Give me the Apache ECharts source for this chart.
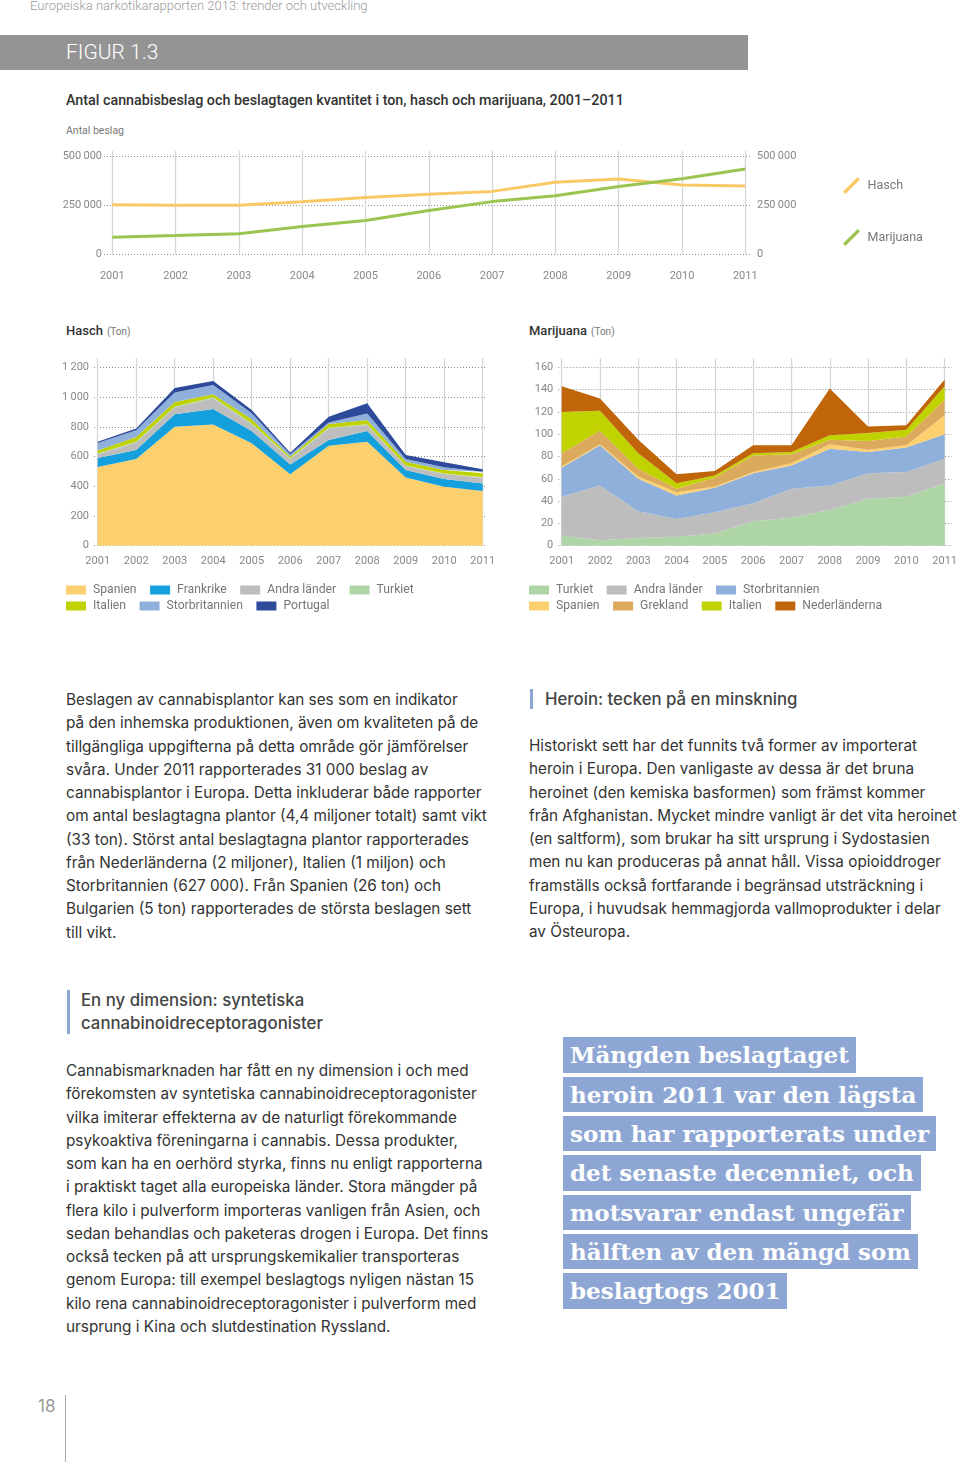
<!DOCTYPE html>
<html><head><meta charset="utf-8">
<script src="https://cdn.jsdelivr.net/npm/echarts@6/dist/echarts.min.js"></script>
<style>
html,body{margin:0;padding:0;background:#fff;}
body{width:960px;height:1462px;position:relative;overflow:hidden;font-family:Inter,"Noto Sans",sans-serif;}
.abs{position:absolute;white-space:pre;}
#chart{position:absolute;left:0;top:0;width:960px;height:630px;}
.para{font-size:15.3px;line-height:23.25px;color:#333;}
.hl{position:absolute;left:563px;background:#8ea6d3;color:#fff;font-family:"DejaVu Serif",serif;font-weight:bold;font-size:23px;height:35.5px;line-height:35.5px;padding:0 7px;white-space:pre;}
</style></head>
<body>
<div class="abs" style="left:30px;top:-2px;font-family:Roboto;font-weight:300;font-size:13px;color:#9a9a9a;line-height:16px;">Europeiska narkotikarapporten 2013: trender och utveckling</div>
<div class="abs" style="left:0;top:35px;width:748px;height:35px;background:#949494;"></div>
<div class="abs" style="left:66px;top:38px;font-family:Roboto;font-weight:300;font-size:21px;color:#fff;line-height:28px;">FIGUR 1.3</div>
<div class="abs" style="left:66px;top:91px;font-family:Roboto;font-weight:500;font-size:14.3px;color:#333;line-height:18px;">Antal cannabisbeslag och beslagtagen kvantitet i ton, hasch och marijuana, 2001–2011</div>
<div class="abs" style="left:66px;top:124px;font-family:Roboto;font-size:10.5px;color:#777;line-height:14px;">Antal beslag</div>
<div class="abs" style="left:66px;top:321px;font-family:Roboto;line-height:18px;"><span style="font-size:13px;font-weight:500;color:#333;">Hasch</span> <span style="font-size:10px;color:#777;">(Ton)</span></div>
<div class="abs" style="left:529px;top:321px;font-family:Roboto;line-height:18px;"><span style="font-size:13px;font-weight:500;color:#333;">Marijuana</span> <span style="font-size:10px;color:#777;">(Ton)</span></div>
<div id="chart"></div>

<div class="abs para" style="left:66px;top:688px;">Beslagen av cannabisplantor kan ses som en indikator
på den inhemska produktionen, även om kvaliteten på de
tillgängliga uppgifterna på detta område gör jämförelser
svåra. Under 2011 rapporterades 31 000 beslag av
cannabisplantor i Europa. Detta inkluderar både rapporter
om antal beslagtagna plantor (4,4 miljoner totalt) samt vikt
(33 ton). Störst antal beslagtagna plantor rapporterades
från Nederländerna (2 miljoner), Italien (1 miljon) och
Storbritannien (627 000). Från Spanien (26 ton) och
Bulgarien (5 ton) rapporterades de största beslagen sett
till vikt.</div>

<div class="abs" style="left:530px;top:689px;width:3px;height:20px;background:#8ea6d3;"></div>
<div class="abs" style="left:545px;top:688px;font-size:16.8px;font-weight:500;color:#444;line-height:22px;">Heroin: tecken på en minskning</div>
<div class="abs para" style="left:529px;top:734px;">Historiskt sett har det funnits två former av importerat
heroin i Europa. Den vanligaste av dessa är det bruna
heroinet (den kemiska basformen) som främst kommer
från Afghanistan. Mycket mindre vanligt är det vita heroinet
(en saltform), som brukar ha sitt ursprung i Sydostasien
men nu kan produceras på annat håll. Vissa opioiddroger
framställs också fortfarande i begränsad utsträckning i
Europa, i huvudsak hemmagjorda vallmoprodukter i delar
av Östeuropa.</div>

<div class="abs" style="left:67px;top:990px;width:3px;height:44px;background:#8ea6d3;"></div>
<div class="abs" style="left:81px;top:989px;font-size:16.8px;font-weight:500;color:#444;line-height:23.25px;">En ny dimension: syntetiska
cannabinoidreceptoragonister</div>
<div class="abs para" style="left:66px;top:1059px;">Cannabismarknaden har fått en ny dimension i och med
förekomsten av syntetiska cannabinoidreceptoragonister
vilka imiterar effekterna av de naturligt förekommande
psykoaktiva föreningarna i cannabis. Dessa produkter,
som kan ha en oerhörd styrka, finns nu enligt rapporterna
i praktiskt taget alla europeiska länder. Stora mängder på
flera kilo i pulverform importeras vanligen från Asien, och
sedan behandlas och paketeras drogen i Europa. Det finns
också tecken på att ursprungskemikalier transporteras
genom Europa: till exempel beslagtogs nyligen nästan 15
kilo rena cannabinoidreceptoragonister i pulverform med
ursprung i Kina och slutdestination Ryssland.</div>

<div class="hl" style="top:1037.3px;">Mängden beslagtaget</div>
<div class="hl" style="top:1076.6px;">heroin 2011 var den lägsta</div>
<div class="hl" style="top:1115.9px;">som har rapporterats under</div>
<div class="hl" style="top:1155.2px;">det senaste decenniet, och</div>
<div class="hl" style="top:1194.5px;">motsvarar endast ungefär</div>
<div class="hl" style="top:1233.8px;">hälften av den mängd som</div>
<div class="hl" style="top:1273.1px;">beslagtogs 2001</div>

<div class="abs" style="left:38px;top:1395px;font-size:17px;color:#999;line-height:22px;">18</div>
<div class="abs" style="left:65px;top:1395px;width:1px;height:67px;background:#aaa;"></div>

<script>
// ---------- DATA ----------
const years = ['2001','2002','2003','2004','2005','2006','2007','2008','2009','2010','2011'];

// Antal beslag (number of seizures)
const seizuresHasch     = [252000, 250000, 250000, 267000, 289000, 306000, 320000, 367000, 383000, 352000, 347000];
const seizuresMarijuana = [ 87000,  95000, 104000, 141000, 172000, 223000, 268000, 298000, 345000, 384000, 434000];

// Hasch (ton), stacked bottom -> top
const haschSpanien        = [530, 583, 800, 816, 689, 480, 673, 700, 458, 397, 368];
const haschFrankrike      = [ 60,  61,  84, 104,  83,  67,  38,  72,  51,  51,  51];
const haschAndraLander    = [ 25,  50,  45,  70,  45,  36,  78,  40,  27,  34,  38];
const haschTurkiet        = [  5,   5,   5,   8,   6,   5,   5,   5,   4,   4,   4];
const haschItalien        = [ 20,  33,  33,  20,  28,  10,  24,  29,  25,  23,  26];
const haschStorbritannien = [ 50,  45,  63,  63,  40,  16,  11,  44,  18,  18,  11];
const haschPortugal       = [ 10,  12,  31,  27,  22,  12,  39,  68,  27,  34,  16];

// Marijuana (ton), stacked bottom -> top
const mariTurkiet         = [  9,   5,   7,   8,  11,  22,  25,  32,  42,  44,  56];
const mariAndraLander     = [ 35,  49,  24,  16,  19,  16,  26,  22,  23,  22,  22];
const mariStorbritannien  = [ 26,  36,  29,  21,  22,  27,  21,  33,  19,  22,  22];
const mariSpanien         = [  1,   1,   2,   3,   1,   1,   2,   4,   2,   2,  17];
const mariGrekland        = [ 12,  12,   7,   3,   8,  15,   8,   4,   8,   8,  14];
const mariItalien         = [ 37,  18,  14,   5,   2,   2,   2,   4,   7,   6,  12];
const mariNederlanderna   = [ 23,  11,  12,   8,   4,   7,   6,  42,   6,   4,   6];

// ---------- STYLE ----------
const C = {
  Spanien:'#fdd06f', Frankrike:'#13a0dc', Andra:'#bdbdbd', Turkiet:'#aed5a6',
  Italien:'#c0d200', Storbritannien:'#8fb0da', Portugal:'#2e4a9b',
  Grekland:'#dcaa5c', Nederlanderna:'#c1650a'
};
const FONT = 'Roboto';
const labelColor = '#888';
function fmt(v){ return String(v).replace(/\B(?=(\d{3})+(?!\d))/g, '\u2009'); }

const gridsDef = [
  {left:104,   top:156,   width:648,   height:98.3},   // 0 top dotted
  {left:112.3, top:151,   width:633,   height:103.3},  // 1 top data
  {left:94,    top:367.3, width:392.7, height:178.4},  // 2 hasch dotted
  {left:97.7,  top:358,   width:385,   height:187.7},  // 3 hasch data
  {left:558.3, top:367.3, width:393.4, height:178.4},  // 4 mari dotted
  {left:561.7, top:358.3, width:385,   height:187.4}   // 5 mari data
];

const dotted = {show:true, lineStyle:{type:[1,2], color:'#8c8c8c', width:1}};
const vlines = {show:true, lineStyle:{color:'#d6d6d6', width:1.3}};

function hiddenX(g){ return {type:'category', gridIndex:g, data:years, show:false}; }
function dataX(g, margin){
  return {type:'category', gridIndex:g, data:years, boundaryGap:false,
    axisLine:{show:false}, axisTick:{show:false}, splitLine:vlines,
    axisLabel:{color:labelColor, fontFamily:FONT, fontSize:11, margin:margin, interval:0}};
}
function dottedY(g, max, interval, pos, margin){
  return {type:'value', gridIndex:g, min:0, max:max, interval:interval, position:pos||'left',
    axisLine:{show:false}, axisTick:{show:false}, splitLine:dotted,
    axisLabel:{color:labelColor, fontFamily:FONT, fontSize:11, margin:margin, formatter:fmt}};
}
function hiddenY(g, max){ return {type:'value', gridIndex:g, min:0, max:max, show:false, splitLine:{show:false}}; }

function area(name, data, color, xi, yi, stack){
  return {name:name, type:'line', stack:stack, xAxisIndex:xi, yAxisIndex:yi, data:data,
    symbol:'none', smooth:false, lineStyle:{width:0, color:color}, itemStyle:{color:color},
    areaStyle:{color:color, opacity:1}, emphasis:{disabled:true}};
}

const haschDefs = [
  ['h|Spanien', haschSpanien, C.Spanien], ['h|Frankrike', haschFrankrike, C.Frankrike],
  ['h|Andra länder', haschAndraLander, C.Andra], ['h|Turkiet', haschTurkiet, C.Turkiet],
  ['h|Italien', haschItalien, C.Italien], ['h|Storbritannien', haschStorbritannien, C.Storbritannien],
  ['h|Portugal', haschPortugal, C.Portugal]
];
const mariDefs = [
  ['m|Turkiet', mariTurkiet, C.Turkiet], ['m|Andra länder', mariAndraLander, C.Andra],
  ['m|Storbritannien', mariStorbritannien, C.Storbritannien], ['m|Spanien', mariSpanien, C.Spanien],
  ['m|Grekland', mariGrekland, C.Grekland], ['m|Italien', mariItalien, C.Italien],
  ['m|Nederländerna', mariNederlanderna, C.Nederlanderna]
];

const series = [
  {name:'Hasch', type:'line', xAxisIndex:1, yAxisIndex:2, data:seizuresHasch, symbol:'none',
   lineStyle:{width:3, color:'#f9c966'}, itemStyle:{color:'#f9c966'}},
  {name:'Marijuana', type:'line', xAxisIndex:1, yAxisIndex:2, data:seizuresMarijuana, symbol:'none',
   lineStyle:{width:3, color:'#9cc450'}, itemStyle:{color:'#9cc450'}}
];
haschDefs.forEach(d => series.push(area(d[0], d[1], d[2], 3, 4, 'hasch')));
mariDefs.forEach(d => series.push(area(d[0], d[1], d[2], 5, 6, 'mari')));

function rowLegend(names, left, top){
  return {data:names, left:left, top:top, orient:'horizontal', icon:'rect', padding:0,
    itemWidth:20, itemHeight:9, itemGap:13.5, selectedMode:false,
    formatter:n => n.split('|').pop(),
    textStyle:{color:'#777', fontFamily:FONT, fontSize:12.2, padding:[0,0,0,2]}};
}

const option = {
  animation:false,
  grid: gridsDef,
  xAxis:[hiddenX(0), dataX(1, 16), hiddenX(2), dataX(3, 10), hiddenX(4), dataX(5, 10)],
  yAxis:[
    dottedY(0, 500000, 250000, 'left', 2),
    {...dottedY(0, 500000, 250000, 'right', 5), splitLine:{show:false}},
    hiddenY(1, 500000*103.3/98.3),
    dottedY(2, 1200, 200, 'left', 5),
    hiddenY(3, 1200*187.7/178.4),
    dottedY(4, 160, 20, 'left', 5),
    hiddenY(5, 160*187.4/178.4)
  ],
  legend:[
    {data:['Hasch','Marijuana'], left:843, top:177, padding:0, orient:'vertical', itemGap:35,
     icon:'path://M0,15 L15,0 L17.5,2.5 L2.5,17.5 Z', itemWidth:18, itemHeight:17, selectedMode:false,
     textStyle:{color:'#777', fontFamily:FONT, fontSize:12.5, padding:[0,0,0,2]}},
    rowLegend(['h|Spanien','h|Frankrike','h|Andra länder','h|Turkiet'], 66, 584),
    rowLegend(['h|Italien','h|Storbritannien','h|Portugal'], 66, 600),
    rowLegend(['m|Turkiet','m|Andra länder','m|Storbritannien'], 529, 584),
    rowLegend(['m|Spanien','m|Grekland','m|Italien','m|Nederländerna'], 529, 600)
  ],
  series: series
};

const chart = echarts.init(document.getElementById('chart'), null, {renderer:'canvas'});
chart.setOption(option);
</script>
</body></html>
